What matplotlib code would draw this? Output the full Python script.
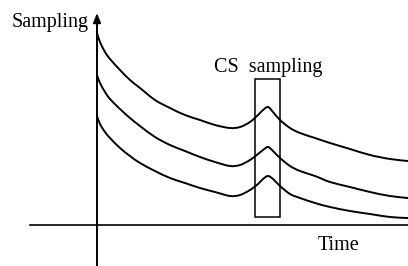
import matplotlib
matplotlib.use("Agg")
import matplotlib.pyplot as plt
from matplotlib.path import Path
from matplotlib.patches import PathPatch

# time positions (axis origin at 0) and sampling values of three curves
time = [0, 3, 8, 13, 23, 33, 43, 58, 73, 88, 103, 118, 133, 143, 153, 161, 166,
        171, 176, 183, 193, 203, 218, 233, 253, 273, 293, 311]
top = [192, 183, 173, 166, 155, 145, 137, 125, 117, 110, 105, 100, 97, 98, 103,
       110, 115, 118, 113, 105, 97, 92, 87, 82, 76, 70, 66, 64]
middle = [150, 142, 133, 126, 116, 107, 99, 88, 80, 74, 68, 63, 59, 60, 65, 71,
          75, 78, 74, 67, 59, 54, 49, 43, 38, 33, 29, 27]
bottom = [109, 101, 93, 87, 77, 69, 62, 54, 47, 42, 37, 33, 29, 30, 35, 41, 46,
          49, 46, 39, 31, 27, 22, 18, 14, 11, 8, 7]

cs_window = (158, 183)      # time span of CS sampling box
cs_box_range = (8, 146)     # vertical extent of box


def smooth_path(xs, ys):
    """Catmull-Rom curve through the given points as cubic Bezier segments."""
    pts = list(zip(xs, ys))
    verts = [pts[0]]
    codes = [Path.MOVETO]
    n = len(pts)
    for i in range(n - 1):
        p0 = pts[i - 1] if i > 0 else pts[i]
        p1 = pts[i]
        p2 = pts[i + 1]
        p3 = pts[i + 2] if i + 2 < n else pts[i + 1]
        c1 = (p1[0] + (p2[0] - p0[0]) / 6.0, p1[1] + (p2[1] - p0[1]) / 6.0)
        c2 = (p2[0] - (p3[0] - p1[0]) / 6.0, p2[1] - (p3[1] - p1[1]) / 6.0)
        verts += [c1, c2, p2]
        codes += [Path.CURVE4] * 3
    return Path(verts, codes)


fig = plt.figure(figsize=(4.08, 2.66), dpi=100)
ax = fig.add_axes([0, 0, 1, 1])
ax.set_xlim(-97, 311)
ax.set_ylim(-41, 225)
ax.axis("off")

for series in (top, middle, bottom):
    ax.add_patch(PathPatch(smooth_path(time, series), fill=False,
                           edgecolor="black", lw=1.4, capstyle="round",
                           joinstyle="round"))

# axes
ax.plot([-67, 311], [0, 0], color="black", lw=1.2)
ax.annotate("", xy=(0, 212), xytext=(0, -41),
            arrowprops=dict(arrowstyle="-|>,head_length=0.55,head_width=0.22",
                            color="black", lw=1.4, shrinkA=0, shrinkB=0))

# CS sampling box
ax.add_patch(plt.Rectangle((cs_window[0], cs_box_range[0]),
                           cs_window[1] - cs_window[0],
                           cs_box_range[1] - cs_box_range[0],
                           fill=False, edgecolor="black", lw=1.1))

font = dict(family="Liberation Serif", size=14.5, color="black")
ax.text(-85, 198, "Sampling", ha="left", va="baseline", **font)
ax.text(117, 153, "CS  sampling", ha="left", va="baseline", **font)
ax.text(221, -25, "Time", ha="left", va="baseline", **font)

fig.savefig("out.png", dpi=100)
